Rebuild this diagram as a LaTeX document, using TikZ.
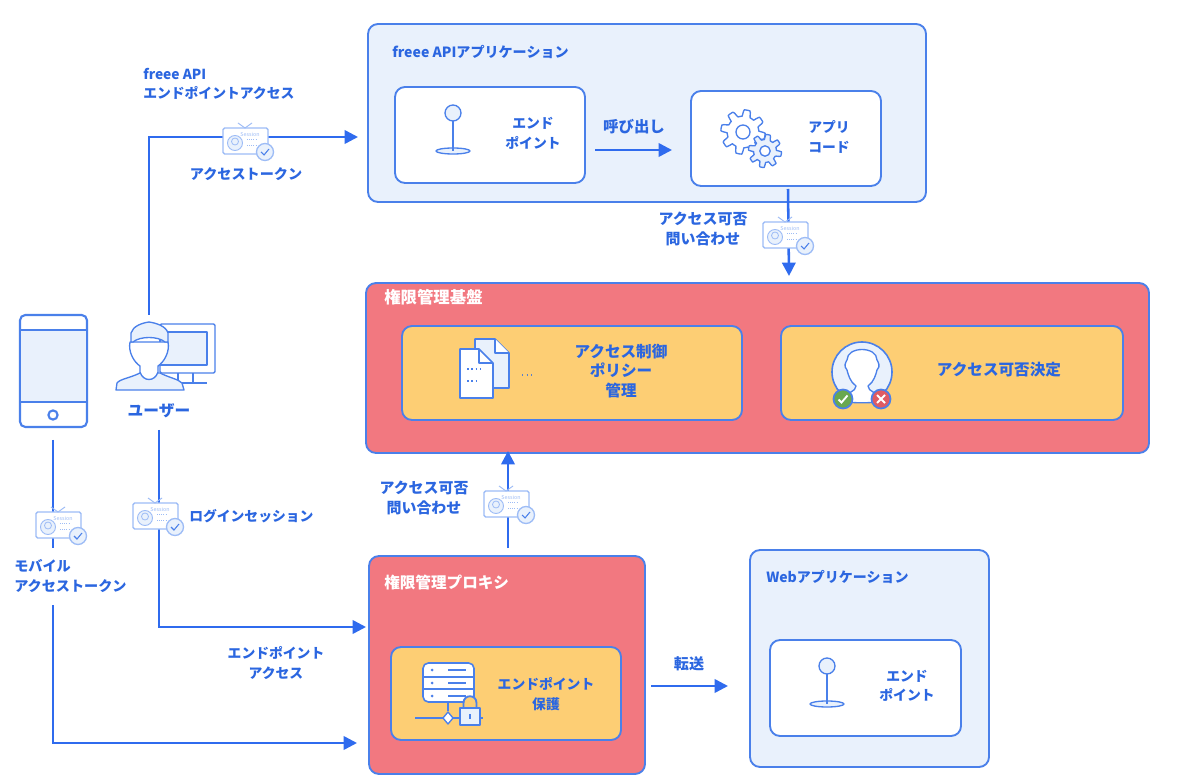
\documentclass[tikz,border=0pt]{standalone}
\usepackage{fontspec}
\setmainfont{Noto Sans CJK JP}
\usetikzlibrary{fit,arrows.meta,shapes.geometric}
\definecolor{linkblue}{HTML}{2F6BEE}
\definecolor{txtblue}{HTML}{2B66E0}
\definecolor{icoblue}{HTML}{4A80EA}
\definecolor{cardblue}{HTML}{9DBCF6}
\definecolor{paleblue}{HTML}{E9F1FC}
\definecolor{boxred}{HTML}{F27880}
\definecolor{boxyellow}{HTML}{FDCE74}
\definecolor{okgreen}{HTML}{69A84F}
\definecolor{ngred}{HTML}{DF5B63}
\tikzset{
  x=0.75pt,y=-0.75pt,
  boxbase/.style={draw=icoblue,line width=1.4pt,rounded corners=7.5pt,inner sep=0pt},
  panel/.style={boxbase,fill=paleblue},
  whitebox/.style={boxbase,fill=white},
  redbox/.style={boxbase,fill=boxred},
  yellowbox/.style={boxbase,fill=boxyellow},
  conn/.style={draw=linkblue,line width=1.9pt},
  arrowconn/.style={conn,-{Triangle[length=10pt,width=10pt]}},
  pts/.style={font=\fontsize{#1}{14.5}\selectfont\bfseries},
  lbl/.style={text=txtblue,pts=10.35,align=center,inner sep=0pt},
  lbll/.style={lbl,align=left,anchor=west},
  whl/.style={lbl,text=white,anchor=west},
  ico/.style={draw=icoblue,line width=1pt,line join=round},
  session/.pic={
    \draw[draw=cardblue,fill=white,line width=1pt,rounded corners=1.2pt] (0,0) rectangle (45,26);
    \draw[cardblue,line width=0.7pt] (15,-5) -- (22,0) -- (29,-5);
    \node[text=cardblue,font=\fontsize{4}{4}\selectfont,inner sep=0pt] (-word) at (27,6) {Session};
    \draw[cardblue,line width=0.7pt,fill=paleblue] (12,15) circle (7.5);
    \draw[cardblue,line width=0.6pt] (12,13.5) circle (3.5);
    \draw[cardblue,line width=0.6pt,densely dotted] (24,11) -- (34,11);
    \draw[cardblue,line width=0.6pt,densely dotted] (24,17) -- (34,17);
    \draw[draw=cardblue,fill=paleblue,line width=1pt] (42,24) circle (8.5);
    \draw[icoblue,line width=0.8pt] (38,24) -- (41,27) -- (46,21);
  },
  pinicon/.pic={
    \draw[ico,fill=paleblue] (0,38) ellipse (17 and 3);
    \draw[ico] (0,8) -- (0,38);
    \draw[ico,fill=paleblue] (0,0) circle (8);
  },
}
\begin{document}
\begin{tikzpicture}
\useasboundingbox[fill=white] (0,0) rectangle (1200,780);
% ---- anchors for free connector ends
\coordinate (uTop) at (149,315);
\coordinate (uBend) at (149,137);
\coordinate (apiIn) at (358,137);
\coordinate (callA) at (595,150);
\coordinate (callB) at (672,150);
\coordinate (appOut) at (788,189);
\coordinate (baseIn) at (789,276);
\coordinate (uBot) at (159,430);
\coordinate (uBend2) at (159,627);
\coordinate (proxyIn) at (366,627);
\coordinate (mTop) at (53,440);
\coordinate (mMid) at (53,548);
\coordinate (mLow) at (53,605);
\coordinate (mBend) at (53,743);
\coordinate (proxyIn2) at (357,743);
\coordinate (proxyOut) at (508,548);
\coordinate (baseIn2) at (508,451);
\coordinate (fwdA) at (651,686);
\coordinate (fwdB) at (728,686);
% ---- containers
\node[panel,fit={(368,24)(926,202)}] (api) {};
\node[whitebox,fit={(395,87)(585,183)}] (ep1) {};
\node[whitebox,fit={(691,91)(881,186)}] (appcode) {};
\node[redbox,fit={(366,283)(1149,453)}] (base) {};
\node[yellowbox,fit={(402,326)(742,420)}] (policy) {};
\node[yellowbox,fit={(781,326)(1123,420)}] (decide) {};
\node[redbox,fit={(369,556)(645,774)}] (proxy) {};
\node[yellowbox,fit={(391,647)(621,740)}] (protect) {};
\node[panel,fit={(750,550)(989,767)}] (web) {};
\node[whitebox,fit={(770,640)(961,736)}] (ep2) {};
% ---- connectors
\draw[arrowconn] (uTop) -- (uBend) -- (apiIn);
\draw[arrowconn] (callA) -- (callB);
\draw[arrowconn] (appOut) -- (baseIn);
\draw[arrowconn] (uBot) -- (uBend2) -- (proxyIn);
\draw[conn] (mTop) -- (mMid);
\draw[arrowconn] (mLow) -- (mBend) -- (proxyIn2);
\draw[arrowconn] (proxyOut) -- (baseIn2);
\draw[arrowconn] (fwdA) -- (fwdB);
% ---- session cards
\pic (s1) at (223,128) {session};
\pic (s2) at (763,222) {session};
\pic (s3) at (484,491) {session};
\pic (s4) at (133,503) {session};
\pic (s5) at (36,512) {session};
% ---- pins
\pic (pin1) at (453,113) {pinicon};
\pic (pin2) at (827,666) {pinicon};
% ---- gears
\begin{scope}[shift={(743,132)}]
  \draw[ico,fill=white] plot[smooth,samples=121,domain=0:360] (\x:{19+3.2*max(min(2.4*sin(8*\x),1),-1)}) -- cycle;
  \draw[ico] (0,0) circle (7);
\end{scope}
\begin{scope}[shift={(765,151)}]
  \draw[ico,fill=paleblue] plot[smooth,samples=121,domain=0:360] (\x:{14+2.6*max(min(2.4*sin(8*\x),1),-1)}) -- cycle;
  \draw[ico,fill=white] (0,0) circle (5.2);
\end{scope}
% ---- phone
\draw[ico,fill=white,line width=1.6pt,rounded corners=4pt] (20,315) rectangle (87,427);
\draw[ico,fill=paleblue,line width=1.4pt] (20.5,330) rectangle (86.5,402);
\draw[ico,line width=1.6pt] (53,415) circle (4.6);
% ---- user + monitor
\draw[ico,fill=white,rounded corners=1pt] (160,324) -- (215,324) -- (215,373) -- (160,373) -- cycle;
\draw[ico,fill=paleblue] (160,332) -- (207,332) -- (207,365) -- (160,365) -- cycle;
\draw[ico] (178,373) -- (178,383) (193,373) -- (193,383) (178,383) -- (207,383);
\draw[ico,fill=paleblue] (116,390) -- (117,383) .. controls (120,379) and (130,378) .. (140,373)
   -- (160,373) .. controls (170,378) and (178,379) .. (182,383) -- (184,390) -- cycle;
\draw[ico,fill=white] (130,342) .. controls (128,352) and (134,362) .. (140,366) -- (140,372)
   .. controls (143,382) and (155,382) .. (158,372) -- (158,366)
   .. controls (164,362) and (170,352) .. (168,342) -- cycle;
\draw[ico,fill=paleblue] (131,342) -- (131,333) .. controls (133,326) and (142,323) .. (149,322)
   .. controls (156,323) and (166,326) .. (168,333) -- (168,342) -- (165,342)
   .. controls (158,336) and (140,336) .. (133,342) -- cycle;
% ---- documents
\draw[ico,fill=paleblue,line width=1.2pt] (475,339) -- (495,339) -- (509,353) -- (509,388) -- (475,388) -- cycle;
\draw[ico,fill=white,line width=1pt] (495,339) -- (495,353) -- (509,353);
\draw[ico,fill=white,line width=1.2pt] (460,349) -- (479,349) -- (493,363) -- (493,398) -- (460,398) -- cycle;
\draw[ico,line width=1pt] (479,349) -- (479,363) -- (493,363);
\draw[icoblue,line width=1pt,dash pattern=on 1.2pt off 2pt] (467,369) -- (482,369);
\draw[icoblue,line width=1pt,dash pattern=on 1.2pt off 2pt] (467,381) -- (478,381);
\draw[icoblue!70!gray,line width=0.8pt,dash pattern=on 1pt off 2.4pt] (522,375) -- (533,375);
% ---- avatar
\draw[ico,fill=paleblue,line width=1.2pt] (862,372) circle (30);
\draw[ico,fill=white] (846,402) -- (846,398) .. controls (846,392) and (856,392) .. (856,386)
  .. controls (850,382) and (848,374) .. (847,370) .. controls (843,366) and (846,362) .. (847,360)
  .. controls (847,346) and (877,346) .. (877,360) .. controls (878,362) and (881,366) .. (877,370)
  .. controls (876,374) and (874,382) .. (868,386) .. controls (868,392) and (878,392) .. (878,398)
  -- (878,402) .. controls (870,403) and (854,403) .. (846,402) -- cycle;
\draw[ico,fill=okgreen,line width=1.3pt] (843,399) circle (9.5);
\draw[ico,fill=ngred,line width=1.3pt] (881,399) circle (9.5);
\draw[white,line width=1.4pt] (838.5,399.5) -- (841.5,402.5) -- (847.5,395.5);
\draw[white,line width=1.4pt] (877,395) -- (885,403) (885,395) -- (877,403);
% ---- server + lock
\draw[ico,fill=white,line width=1.2pt,rounded corners=4pt] (423,663) rectangle (474,702);
\draw[ico] (423,677) -- (474,677) (423,689) -- (474,689);
\foreach \yy in {670,683,696}{
  \fill[icoblue] (432,\yy) circle (1.5);
  \draw[icoblue,line width=0.9pt] (448,\yy) -- (466,\yy);
}
\draw[ico] (448,702) -- (448,711) (415,718) -- (483,718);
\draw[ico,fill=white] (448,712) -- (453,718) -- (448,724) -- (443,718) -- cycle;
\draw[ico,fill=boxyellow,line width=1.4pt] (463.5,708) -- (463.5,703) .. controls (463.5,694) and (476.5,694) .. (476.5,703) -- (476.5,708);
\draw[ico,fill=paleblue] (460,708) rectangle (480,725);
\draw[icoblue,line width=1pt] (470,714) -- (470,719);
% ---- labels
\node[lbll] (tApi) at (143,84) {freee API\\エンドポイントアクセス};
\node[lbl,pts=10.6] (tToken) at (246,174) {アクセストークン};
\node[lbll,pts=10.55] (tApiTitle) at (392,52) {freee APIアプリケーション};
\node[lbl] (tEp1) at (533,133.5) {エンド\\ポイント};
\node[lbl,pts=11.6] (tCall) at (634,127) {呼び出し};
\node[lbl] (tApp) at (829,137) {アプリ\\コード};
\node[lbl,pts=11.2] (tAsk1) at (703,229) {アクセス可否\\問い合わせ};
\node[whl,pts=12.3] (tBase) at (384,297) {権限管理基盤};
\node[lbl,pts=11.7] (tPolicy) at (621,371) {アクセス制御\\ポリシー\\管理};
\node[lbl,pts=11.7] (tDecide) at (999,370) {アクセス可否決定};
\node[lbl,pts=11.8] (tUser) at (159,411) {ユーザー};
\node[lbll] (tLogin) at (189,516) {ログインセッション};
\node[lbl,pts=11.2] (tAsk2) at (424,498) {アクセス可否\\問い合わせ};
\node[lbll,pts=10.6] (tMobile) at (14,576) {モバイル\\アクセストークン};
\node[lbl] (tEpAcc) at (276,663) {エンドポイント\\アクセス};
\node[whl,pts=11.7] (tProxy) at (384,583) {権限管理プロキシ};
\node[lbl] (tProt) at (546,694) {エンドポイント\\保護};
\node[lbl,pts=11.3] (tFwd) at (689,664) {転送};
\node[lbll,pts=10.5] (tWeb) at (766,577) {Webアプリケーション};
\node[lbl] (tEp2) at (907,686) {エンド\\ポイント};
\end{tikzpicture}
\end{document}
